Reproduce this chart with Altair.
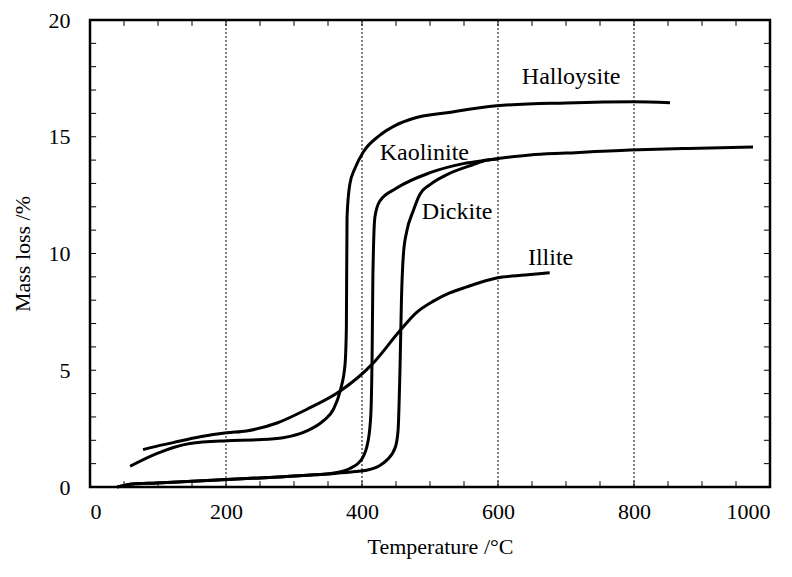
import altair as alt
import pandas as pd

# ---- data ----
halloysite_t = [59, 98, 147, 201, 245, 284, 319, 343, 358, 368, 375, 377, 378, 382, 390, 402, 426, 450, 475, 525, 598, 700, 800, 853]
halloysite_m = [0.89, 1.43, 1.86, 1.98, 2.02, 2.11, 2.40, 2.83, 3.33, 4.13, 5.23, 6.8, 11.56, 12.95, 13.67, 14.35, 15.06, 15.5, 15.78, 16.03, 16.33, 16.45, 16.5, 16.46]

kaolinite_t = [40, 63, 98, 150, 201, 250, 294, 330, 357, 382, 400, 409, 413, 415, 416, 419, 426, 451, 500, 549, 584, 647, 700, 794, 880, 975]
kaolinite_m = [0.0, 0.13, 0.17, 0.25, 0.32, 0.39, 0.46, 0.52, 0.59, 0.79, 1.21, 1.98, 3.11, 6.0, 9.0, 11.56, 12.24, 12.8, 13.46, 13.85, 14.0, 14.22, 14.3, 14.43, 14.5, 14.56]

dickite_t = [40, 63, 98, 150, 201, 250, 294, 330, 360, 390, 407, 425, 436, 449, 453, 456, 458, 461, 466, 475, 485, 500, 525, 563, 584, 600]
dickite_m = [0.0, 0.13, 0.17, 0.25, 0.32, 0.39, 0.46, 0.52, 0.58, 0.66, 0.72, 0.9, 1.14, 1.70, 2.4, 5.2, 8.0, 10.0, 10.97, 11.8, 12.53, 12.95, 13.38, 13.8, 14.0, 14.05]

illite_t = [78, 100, 122, 162, 201, 230, 275, 319, 368, 414, 456, 480, 505, 529, 554, 598, 640, 676]
illite_m = [1.60, 1.76, 1.90, 2.15, 2.32, 2.40, 2.74, 3.33, 4.11, 5.23, 6.70, 7.47, 7.96, 8.31, 8.57, 8.95, 9.08, 9.18]

label_names = ["Halloysite", "Kaolinite", "Dickite", "Illite"]
label_t = [635, 426, 488, 644]
label_m = [17.26, 14.0, 11.48, 9.49]

grid_t = [200, 400, 600, 800]
x_ticks = [0, 200, 400, 600, 800, 1000]
y_ticks = [0, 5, 10, 15, 20]
x_minor = list(range(50, 1000, 50))
y_minor = list(range(1, 20))

FONT = "Liberation Serif"

rows = []
for name, ts, ms in [("Halloysite", halloysite_t, halloysite_m),
                     ("Kaolinite", kaolinite_t, kaolinite_m),
                     ("Dickite", dickite_t, dickite_m),
                     ("Illite", illite_t, illite_m)]:
    for t, m in zip(ts, ms):
        rows.append({"series": name, "T": t, "M": m})
df = pd.DataFrame(rows)

xs = alt.Scale(domain=[0, 1000], nice=False, zero=False)
ys = alt.Scale(domain=[0, 20], nice=False, zero=False)

x_axis = alt.Axis(values=x_ticks, format="d", ticks=False, domain=False, grid=False,
                  labelPadding=14, titlePadding=14, titleX=350,
                  labelFont=FONT, labelFontSize=22, labelColor="black",
                  titleFont=FONT, titleFontSize=22, titleFontWeight="normal", titleColor="black")
y_axis = alt.Axis(values=y_ticks, format="d", ticks=False, domain=False, grid=False,
                  labelPadding=20, titlePadding=14,
                  labelFont=FONT, labelFontSize=22, labelColor="black",
                  titleFont=FONT, titleFontSize=22, titleFontWeight="normal", titleColor="black")

lines = alt.Chart(df).mark_line(color="black", strokeWidth=3, interpolate="monotone").encode(
    x=alt.X("T:Q", scale=xs, title="Temperature /°C", axis=x_axis),
    y=alt.Y("M:Q", scale=ys, title="Mass loss /%", axis=y_axis),
    detail="series:N", order="T:Q")

grid = alt.Chart(pd.DataFrame({"T": grid_t})).mark_rule(
    color="black", strokeWidth=1, strokeDash=[2, 2]).encode(
    x=alt.X("T:Q", scale=xs, title="Temperature /°C", axis=x_axis))

xt = pd.DataFrame({"T": x_minor})
bottom_ticks = alt.Chart(xt).mark_rule(color="black", strokeWidth=1).encode(
    x=alt.X("T:Q", scale=xs), y=alt.datum(0, scale=ys), y2=alt.datum(0.25))
top_ticks = alt.Chart(xt).mark_rule(color="black", strokeWidth=1).encode(
    x=alt.X("T:Q", scale=xs), y=alt.datum(20, scale=ys), y2=alt.datum(19.75))
yt = pd.DataFrame({"M": y_minor})
left_ticks = alt.Chart(yt).mark_rule(color="black", strokeWidth=1).encode(
    y=alt.Y("M:Q", scale=ys), x=alt.datum(0, scale=xs), x2=alt.datum(9))
right_ticks = alt.Chart(yt).mark_rule(color="black", strokeWidth=1).encode(
    y=alt.Y("M:Q", scale=ys), x=alt.datum(1000, scale=xs), x2=alt.datum(991))

labels = alt.Chart(pd.DataFrame({"name": label_names, "T": label_t, "M": label_m})).mark_text(
    font=FONT, fontSize=24, color="black", align="left", baseline="alphabetic").encode(
    x=alt.X("T:Q", scale=xs), y=alt.Y("M:Q", scale=ys), text="name:N")

chart = alt.layer(lines, grid, bottom_ticks, top_ticks, left_ticks, right_ticks, labels).properties(
    width=680, height=467,
    autosize=alt.AutoSizeParams(type="none"),
    padding={"left": 82, "top": 12, "right": 14, "bottom": 82},
    background="white",
).configure_view(stroke="black", strokeWidth=2.5).configure_axis(
    labelFont=FONT, labelFontSize=22, labelColor="black",
    titleFont=FONT, titleFontSize=22, titleFontWeight="normal", titleColor="black",
)

chart.save("out.html", embed_options={"renderer": "svg", "actions": False})
